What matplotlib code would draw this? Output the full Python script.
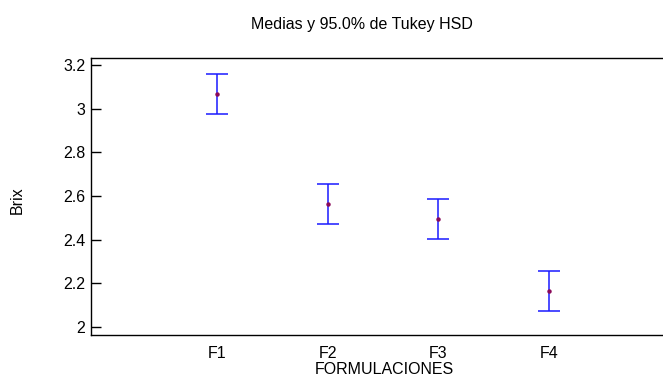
import numpy as np
import matplotlib
matplotlib.use("Agg")
import matplotlib.pyplot as plt

# group means and Tukey HSD half-widths (95%)
groups = ["F1", "F2", "F3", "F4"]
means = [3.066, 2.564, 2.497, 2.164]
half_width = [0.0915, 0.0915, 0.0915, 0.0915]
yticks = [2.0, 2.2, 2.4, 2.6, 2.8, 3.0, 3.2]
ytick_labels = ["2", "2.2", "2.4", "2.6", "2.8", "3", "3.2"]

plt.rcParams['font.family'] = ['Liberation Sans', 'DejaVu Sans']
W, H = 663, 385
fig = plt.figure(figsize=(W / 100, H / 100), dpi=100)
ax = fig.add_axes([91 / W, (H - 334.5) / H, 1 - 91 / W, (334.5 - 58) / H])

x = np.arange(1, len(groups) + 1)
ax.errorbar(x, means, yerr=half_width, fmt='none', ecolor='#1a1aff',
            elinewidth=1.1, capsize=8, capthick=1.1)
ax.plot(x, means, 'o', color='#8a0a5a', markersize=2.2, zorder=3)

ax.set_xlim(-0.142, 5.03)
ax.set_ylim(1.966, 3.232)
ax.set_xticks(x)
ax.set_xticklabels(groups)
ax.set_yticks(yticks)
ax.set_yticklabels(ytick_labels)
ax.tick_params(axis='y', direction='in', length=7.2, width=1, pad=4, labelsize=11.5)
ax.tick_params(axis='x', length=0, pad=8, labelsize=11.5)

ax.spines['right'].set_visible(False)
for s in ['left', 'top', 'bottom']:
    ax.spines[s].set_linewidth(1.0)
    ax.spines[s].set_color('black')

fig.text(362 / W, 1 - 24 / H, "Medias y 95.0% de Tukey HSD", ha='center', va='center', fontsize=11.5)
fig.text(384 / W, 1 - 370 / H, "FORMULACIONES", ha='center', va='center', fontsize=11.5)
fig.text(17 / W, 1 - 200 / H, "Brix", ha='center', va='center', rotation=90, fontsize=11.5)

fig.savefig("out.png", dpi=100)
